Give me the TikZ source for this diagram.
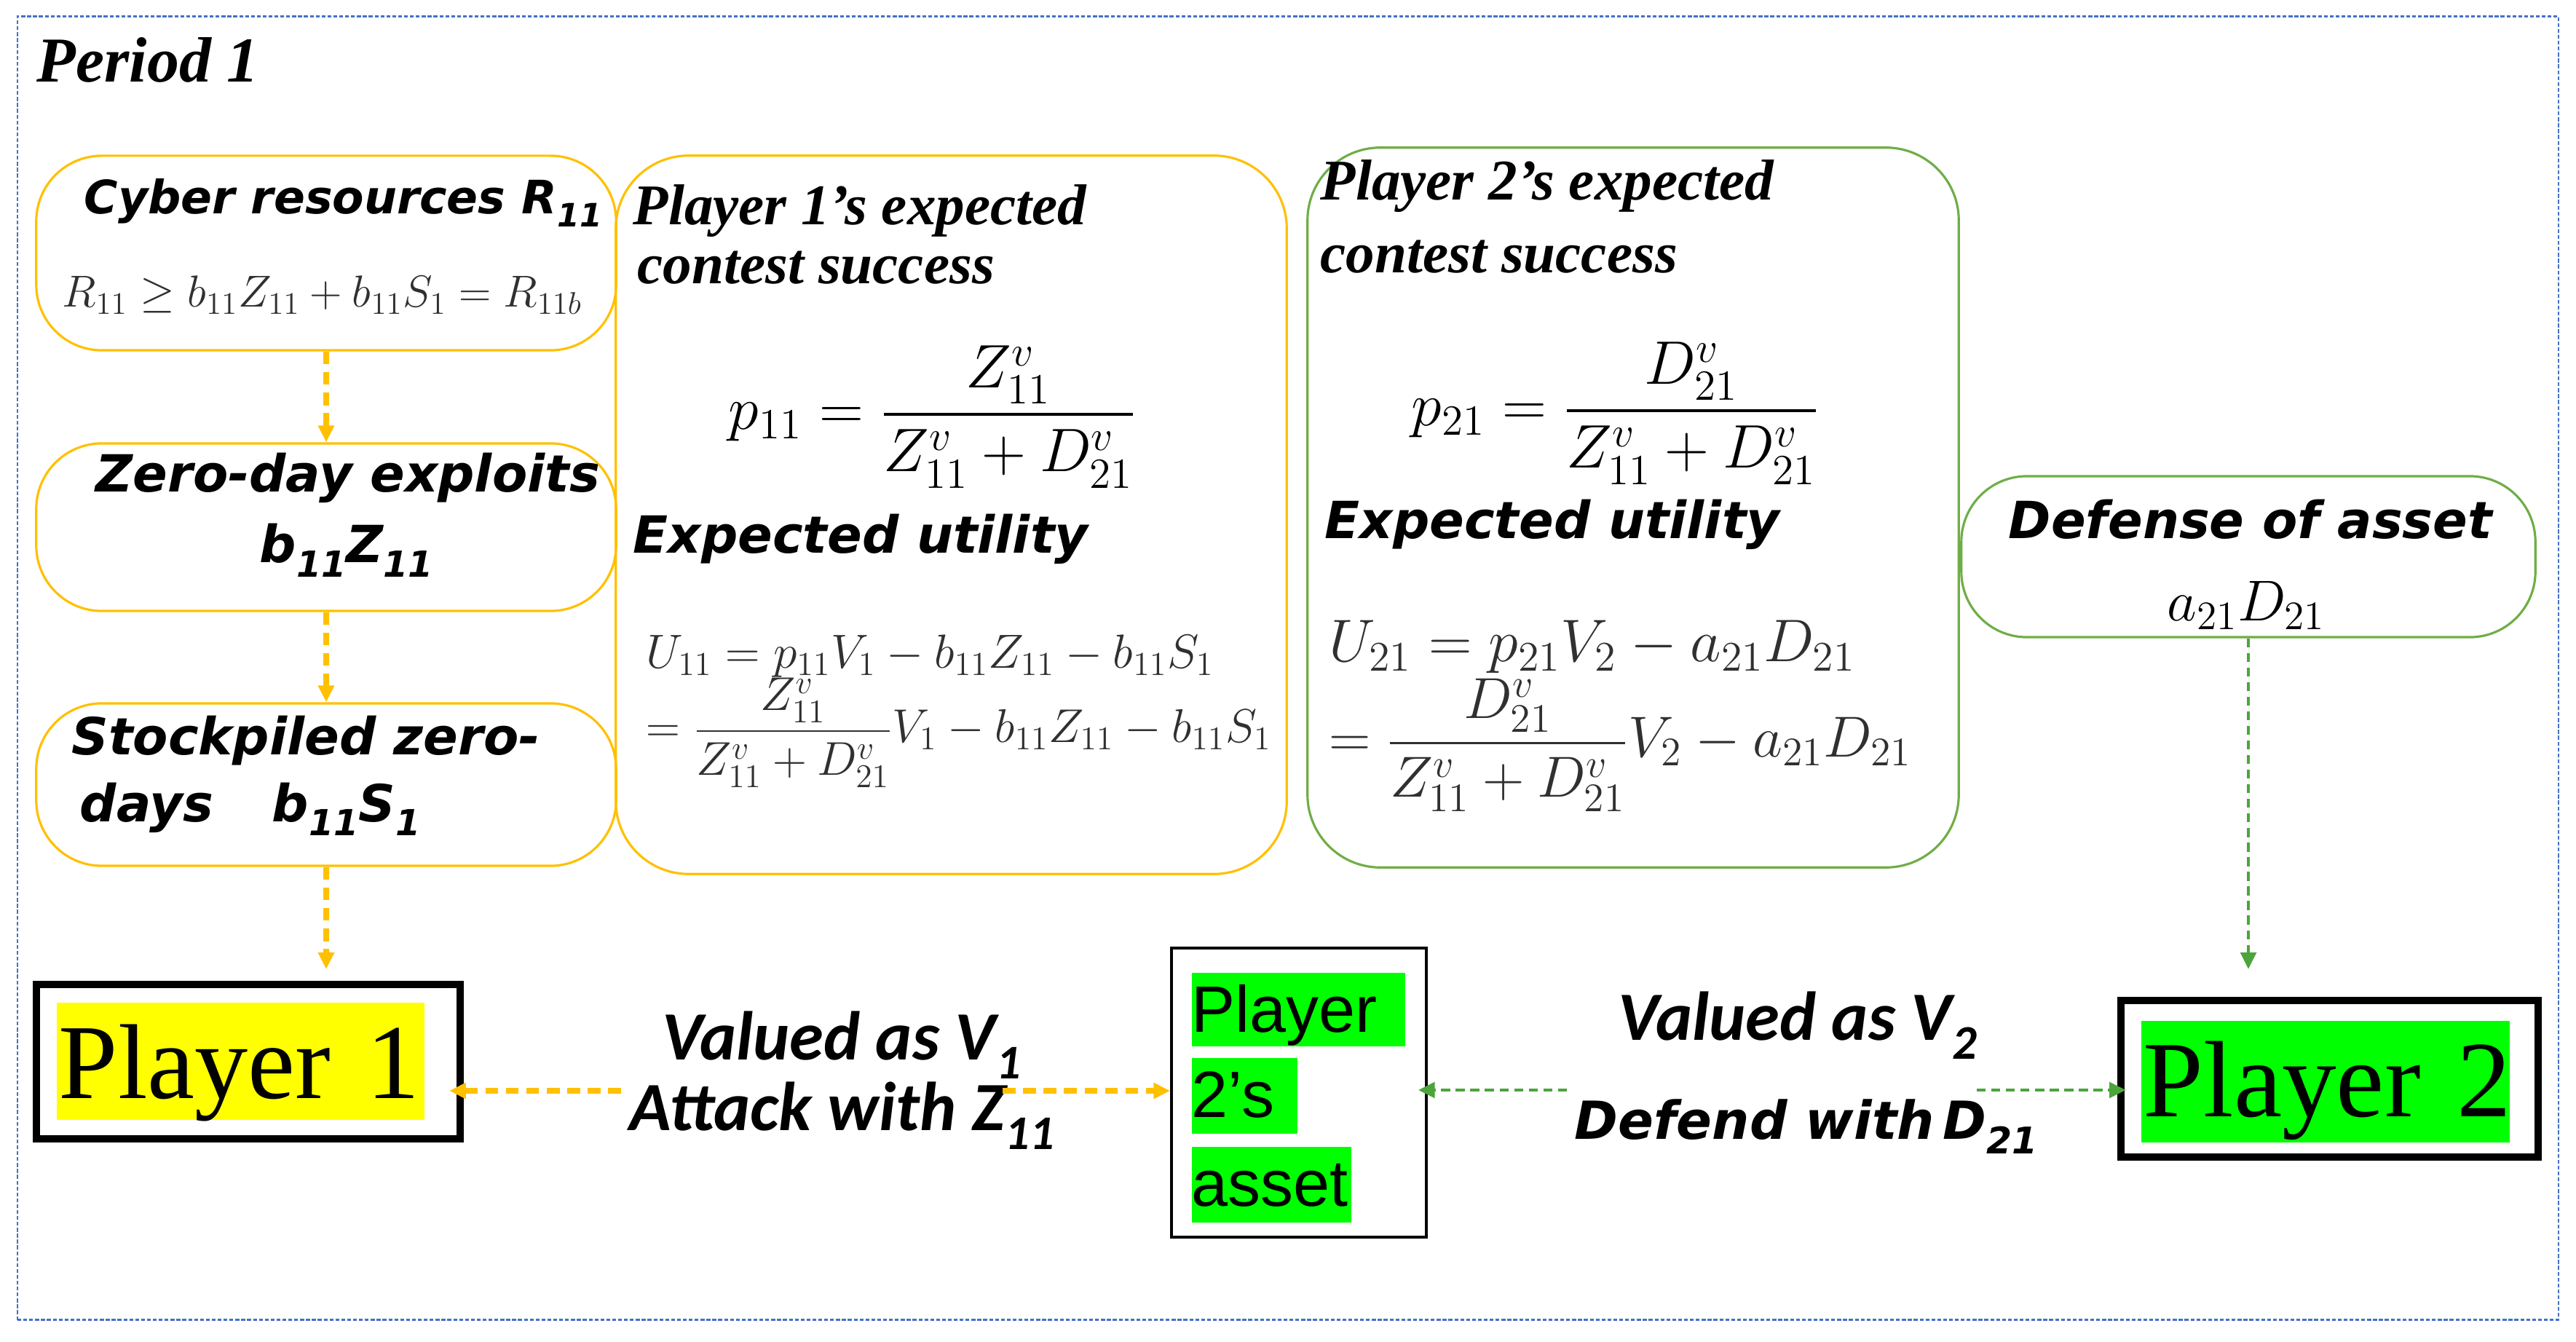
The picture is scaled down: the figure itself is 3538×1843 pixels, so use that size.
\RequirePackage{fix-cm}
\documentclass[tikz,border=0pt]{standalone}
\usepackage{amsmath}
\usepackage{graphicx}
\usepackage{fontspec}
\usetikzlibrary{arrows.meta,calc}
\newfontfamily\dvs{DejaVu Sans}[BoldItalicFont={DejaVu Sans Bold Oblique}]
\newfontfamily\carl{Carlito}
\newfontfamily\tnr{Liberation Serif}
\newfontfamily\ars{Liberation Sans}
\definecolor{ybord}{HTML}{FFC000}
\definecolor{gbord}{HTML}{70AD47}
\definecolor{garrow}{HTML}{4CA43C}
\definecolor{fblue}{HTML}{4472C4}
\definecolor{hlgreen}{HTML}{00FF00}
\definecolor{hlyellow}{HTML}{FFFF00}
\definecolor{mgray}{HTML}{303030}
\newcommand{\sbs}[1]{\raisebox{-0.28em}{\scalebox{0.7}{#1}}}
\begin{document}
\begin{tikzpicture}[x=0.01cm,y=-0.01cm,
  ybox/.style={draw=ybord, line width=0.9pt, rounded corners=0.9cm, inner sep=0},
  gbox/.style={draw=gbord, line width=0.9pt, rounded corners=0.9cm, inner sep=0},
  yarr/.style={draw=ybord, line width=2pt, dash pattern=on 5pt off 3pt, -{Triangle[length=6.5pt,width=6pt]}},
  garr/.style={draw=garrow, line width=1.4pt, dash pattern=on 3.5pt off 2.2pt, -{Triangle[length=6.5pt,width=6pt]}},
  txt/.style={inner sep=0, anchor=base west},
  ttl/.style={txt, font=\dvs\bfseries\itshape\fontsize{20}{24}\selectfont},
  serbi/.style={txt, font=\tnr\bfseries\itshape\fontsize{22.5}{27}\selectfont},
  valued/.style={txt, font=\carl\bfseries\itshape\fontsize{27}{32}\selectfont},
]
\useasboundingbox (0,0) rectangle (3538,1843);

% outer frame
\node[draw=fblue, line width=0.8pt, dash pattern=on 1.5pt off 0.8pt, inner sep=0,
      minimum width=34.88cm, minimum height=17.89cm] (frame) at (1769,917.5) {};
\node[txt, font=\tnr\bfseries\itshape\fontsize{25}{29}\selectfont] (period) at (50,113) {Period 1};

% left column boxes
\node[ybox, minimum width=7.96cm, minimum height=2.67cm] (cyber) at (448,347.5) {};
\node[ybox, minimum width=7.96cm, minimum height=2.30cm] (zero) at (448,724) {};
\node[ybox, minimum width=7.96cm, minimum height=2.23cm] (stock) at (448,1077.5) {};

\node[ttl, font=\dvs\bfseries\itshape\fontsize{18}{22}\selectfont] (cyberT) at (115,294) {Cyber resources R\sbs{11}};
\node[txt, text=mgray, font=\fontsize{17.5}{21}\selectfont] (cyberF) at (85,422) {$R_{11}\geq b_{11}Z_{11}+b_{11}S_1=R_{11b}$};

\node[ttl] (zeroT) at (131,676) {Zero-day exploits};
\node[ttl] (zeroF) at (356,773) {b\sbs{11}Z\sbs{11}};

\node[ttl] (stockT) at (98,1037) {Stockpiled zero-};
\node[ttl] (stockD) at (109,1128) {days};
\node[ttl] (stockF) at (373,1128) {b\sbs{11}S\sbs{1}};

% player 1 expected box
\node[ybox, rounded corners=1cm, minimum width=9.21cm, minimum height=9.86cm] (p1exp) at (1306.5,707) {};
\node[serbi] (p1T1) at (869,309) {Player 1’s expected};
\node[serbi] (p1T2) at (875,390) {contest success};
\node[txt, font=\fontsize{24}{28}\selectfont] (p1F) at (1000,590)
  {$\displaystyle p_{11}=\frac{Z_{11}^{v}}{Z_{11}^{v}+D_{21}^{v}}$};
\node[ttl] (p1U) at (869,760) {Expected utility};
\node[txt, text=mgray, font=\fontsize{18.7}{22}\selectfont] (p1U1) at (887,918)
  {$U_{11}=p_{11}V_1-b_{11}Z_{11}-b_{11}S_1$};
\node[txt, text=mgray, font=\fontsize{18.5}{22}\selectfont] (p1U2) at (887,1020)
  {$\displaystyle =\frac{Z_{11}^{v}}{Z_{11}^{v}+D_{21}^{v}}V_1-b_{11}Z_{11}-b_{11}S_1$};

% player 2 expected box
\node[gbox, rounded corners=1cm, minimum width=8.94cm, minimum height=9.88cm] (p2exp) at (2243,697) {};
\node[serbi] (p2T1) at (1813,275) {Player 2’s expected};
\node[serbi] (p2T2) at (1813,375) {contest success};
\node[txt, font=\fontsize{24}{28}\selectfont] (p2F) at (1938,585)
  {$\displaystyle p_{21}=\frac{D_{21}^{v}}{Z_{11}^{v}+D_{21}^{v}}$};
\node[ttl] (p2U) at (1819,740) {Expected utility};
\node[txt, text=mgray, font=\fontsize{23.5}{28}\selectfont] (p2U1) at (1825,909)
  {$U_{21}=p_{21}V_2-a_{21}D_{21}$};
\node[txt, text=mgray, font=\fontsize{22.6}{27}\selectfont] (p2U2) at (1825,1040)
  {$\displaystyle =\frac{D_{21}^{v}}{Z_{11}^{v}+D_{21}^{v}}V_2-a_{21}D_{21}$};

% defense box
\node[gbox, minimum width=7.88cm, minimum height=2.21cm] (defense) at (3088,764.5) {};
\node[ttl] (defT) at (2758,740) {Defense of asset};
\node[txt, font=\fontsize{22.5}{27}\selectfont] (defF) at (2976,853) {$a_{21}D_{21}$};

% players and asset
\node[draw=black, line width=2.8pt, inner sep=0, minimum width=5.82cm, minimum height=2.12cm] (player1) at (341,1458) {};
\node[txt, fill=hlyellow, text width=5.05cm, align=left, text height=1.31cm, text depth=0.30cm,
      font=\tnr\fontsize{41.6}{48}\selectfont] (p1name) at (77,1508) {\mbox{\hspace*{0.03cm}Player 1}};

\node[draw=black, line width=1pt, inner sep=0, minimum width=3.50cm, minimum height=3.97cm] (asset) at (1784,1500.5) {};
\node[txt, fill=hlgreen, text width=2.93cm, align=left, text height=0.81cm, text depth=0.20cm,
      font=\ars\fontsize{25.6}{30}\selectfont] (as1) at (1636,1417) {Player};
\node[txt, fill=hlgreen, text width=1.45cm, align=left, text height=0.81cm, text depth=0.23cm,
      font=\ars\fontsize{25.6}{30}\selectfont] (as2) at (1636,1534) {2’s};
\node[txt, fill=hlgreen, text width=2.19cm, align=left, text height=0.81cm, text depth=0.23cm,
      font=\ars\fontsize{25.6}{30}\selectfont] (as3) at (1636,1656) {asset};

\node[draw=black, line width=2.8pt, inner sep=0, minimum width=5.73cm, minimum height=2.15cm] (player2) at (3199.5,1481.5) {};
\node[txt, fill=hlgreen, text width=5.06cm, align=left, text height=1.31cm, text depth=0.36cm,
      font=\tnr\fontsize{42.4}{49}\selectfont] (p2name) at (2940,1533) {\mbox{\hspace*{0.03cm}Player 2}};

% arrow labels
\node[valued] (lv1) at (909,1455) {Valued as V\sbs{1}};
\node[valued] (la1) at (864,1552) {Attack with Z\sbs{11}};
\node[valued] (lv2) at (2222,1428) {Valued as V\sbs{2}};
\node[ttl, font=\dvs\bfseries\itshape\fontsize{20.5}{24}\selectfont] (ld2) at (2162,1564) {Defend with\,D\sbs{21}};

% connectors
\draw[yarr] (cyber) -- (zero);
\draw[yarr] (zero) -- (stock);
\draw[yarr, shorten >=0.16cm] (stock.south) -- (stock.south |- player1.north);
\coordinate (ya) at (853,1498);
\draw[yarr, shorten >=-0.2cm] (ya) -- (ya -| player1.east);
\coordinate (yb) at (1377,1498);
\draw[yarr] (yb) -- (yb -| asset.west);
\coordinate (ga) at (2152,1497);
\draw[garr, shorten >=-0.13cm] (ga) -- (ga -| asset.east);
\coordinate (gb) at (2715,1497);
\draw[garr, shorten >=-0.12cm] (gb) -- (gb -| player2.west);
\draw[garr, shorten >=0.38cm] (defense.south) -- (defense.south |- player2.north);
\end{tikzpicture}
\end{document}
